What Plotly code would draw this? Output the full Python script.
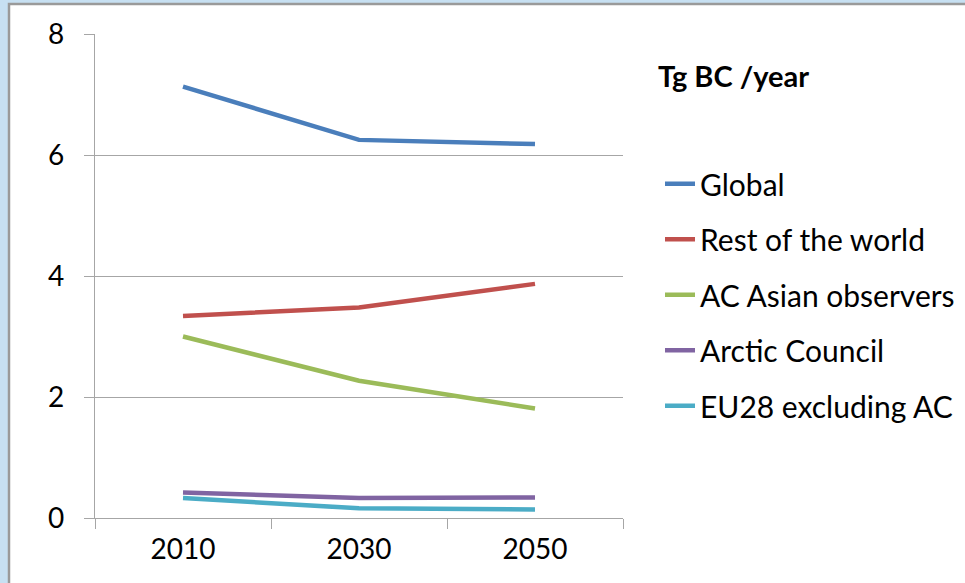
import plotly.graph_objects as go

# Black carbon emissions by region, Tg BC per year
years = ["2010", "2030", "2050"]
global_bc = [7.13, 6.25, 6.18]
rest_of_world = [3.34, 3.48, 3.87]
ac_asian_observers = [3.00, 2.27, 1.81]
arctic_council = [0.42, 0.33, 0.34]
eu28_excl_ac = [0.33, 0.16, 0.14]

series_names = ["Global", "Rest of the world", "AC Asian observers",
                "Arctic Council", "EU28 excluding AC"]
series_values = [global_bc, rest_of_world, ac_asian_observers,
                 arctic_council, eu28_excl_ac]
series_colors = ["#4A7EBB", "#C0504D", "#9BBB59", "#8064A2", "#4BACC6"]

y_ticks = [0, 2, 4, 6, 8]
unit_title = "Tg BC /year"

FONT = "Lato"
GRID = "#A6A6A6"

fig = go.Figure()
for name, vals, col in zip(series_names, series_values, series_colors):
    fig.add_trace(go.Scatter(
        x=years, y=vals, name=name, mode="lines",
        line=dict(color=col, width=4.5),
        legendgroup=name,
    ))

W, H = 965, 583
L, R, T, B = 95, 342, 34, 64.5
pw, ph = W - L - R, H - T - B


def px_x(x):
    return (x - L) / pw


def px_y(y):
    return (H - B - y) / ph


fig.update_layout(
    width=W, height=H,
    margin=dict(l=L, r=R, t=T, b=B, autoexpand=False),
    paper_bgcolor="#C7E0F2",
    plot_bgcolor="white",
    font=dict(family=FONT, size=28, color="#000000"),
    showlegend=True,
    legend=dict(
        x=px_x(660), xanchor="left",
        y=px_y(158), yanchor="top",
        font=dict(family=FONT, size=30, color="#000000"),
        bgcolor="rgba(0,0,0,0)",
        tracegroupgap=13.5,
        itemclick=False,
    ),
    xaxis=dict(
        type="category", categoryorder="array", categoryarray=years,
        range=[-0.5, 2.5],
        tickson="boundaries", ticks="outside", ticklen=10, tickcolor=GRID,
        showline=True, linecolor=GRID, linewidth=1.3,
        showgrid=False, zeroline=False,
        tickfont=dict(family=FONT, size=28),
        ticklabelstandoff=6,
    ),
    yaxis=dict(
        range=[0, 8], tickvals=y_ticks,
        ticks="outside", ticklen=10, tickcolor=GRID,
        showline=True, linecolor=GRID, linewidth=1.3,
        showgrid=True, gridcolor=GRID, gridwidth=1.3,
        zeroline=False,
        tickfont=dict(family=FONT, size=28),
        ticklabelstandoff=14,
    ),
    shapes=[
        # white chart area with a grey frame
        dict(type="rect", xref="paper", yref="paper",
             x0=px_x(9), x1=px_x(990), y0=px_y(610), y1=px_y(4),
             fillcolor="white", line=dict(color="#9A9A9A", width=2.5),
             layer="below"),
    ],
    annotations=[
        dict(text="<b>" + unit_title + "</b>", xref="paper", yref="paper",
             x=px_x(656), y=px_y(76), xanchor="left", yanchor="middle",
             showarrow=False, font=dict(family=FONT, size=29, color="#000000")),
    ],
)

fig.write_html("out.html")
